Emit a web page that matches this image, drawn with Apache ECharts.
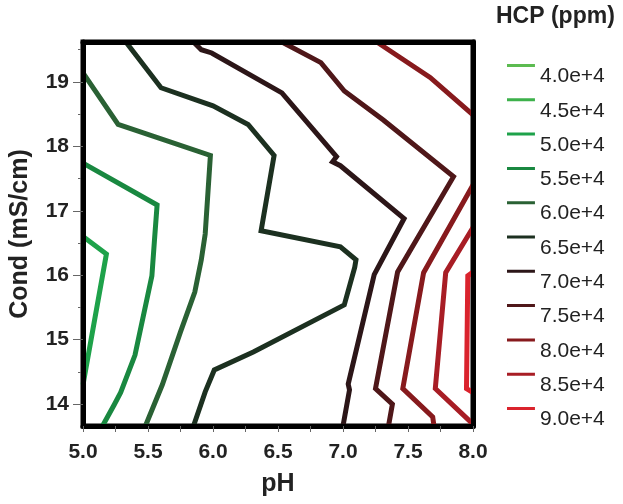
<!DOCTYPE html>
<html>
<head>
<meta charset="utf-8">
<script src="https://cdn.jsdelivr.net/npm/echarts@6/dist/echarts.min.js"></script>
<style>
html, body { margin: 0; padding: 0; background: #fff; }
#chart { width: 623px; height: 504px; }
</style>
</head>
<body>
<div id="chart"></div>
<script>
// HCP contour levels and their colours
var levels = ['4.0e+4', '4.5e+4', '5.0e+4', '5.5e+4', '6.0e+4', '6.5e+4', '7.0e+4', '7.5e+4', '8.0e+4', '8.5e+4', '9.0e+4'];
var levelColors = ['#5CBB50', '#3DB14B', '#1EA24A', '#198840', '#2A6134', '#1C3020', '#2C1618', '#4F1719', '#871A1D', '#A81D25', '#DA232D'];

// contour lines, each point is [pH, Cond]
var c50 = [[5.00, 16.60], [5.18, 16.33], [5.00, 14.30]];
var c55 = [[5.00, 17.74], [5.57, 17.09], [5.55, 16.55], [5.53, 15.99], [5.40, 14.76], [5.29, 14.18], [5.24, 13.99], [5.15, 13.66]];
var c60 = [[5.00, 19.14], [5.27, 18.34], [5.98, 17.86], [5.94, 16.64], [5.91, 16.24], [5.86, 15.74], [5.75, 15.12], [5.61, 14.30], [5.48, 13.66]];
var c65 = [[5.33, 19.62], [5.60, 18.91], [6.00, 18.63], [6.27, 18.34], [6.47, 17.86], [6.37, 16.69], [6.98, 16.44], [7.10, 16.24], [7.09, 16.12], [7.01, 15.54], [6.31, 14.81], [6.01, 14.53], [5.94, 14.19], [5.85, 13.66]];
var c70 = [[5.85, 19.62], [5.91, 19.50], [5.99, 19.45], [6.53, 18.83], [6.95, 17.84], [6.92, 17.76], [6.98, 17.70], [7.47, 16.88], [7.24, 16.01], [7.04, 14.31], [7.05, 14.22], [7.00, 13.66]];
var c75 = [[6.53, 19.62], [6.83, 19.30], [7.01, 18.86], [7.31, 18.41], [7.85, 17.53], [7.42, 16.05], [7.25, 14.24], [7.38, 14.00], [7.35, 13.66]];
var c80a = [[7.26, 19.62], [7.67, 19.07], [8.00, 18.49]];
var c80b = [[8.00, 17.40], [7.62, 16.04], [7.46, 14.24], [7.69, 13.80], [7.70, 13.66]];
var c85 = [[8.00, 16.74], [7.79, 16.04], [7.71, 14.24], [8.00, 13.69]];
var c90 = [[8.00, 16.05], [7.96, 15.99], [7.95, 14.24], [8.00, 14.18]];

var contours = [
  ['5.0e+4', c50], ['5.5e+4', c55], ['6.0e+4', c60], ['6.5e+4', c65], ['7.0e+4', c70],
  ['7.5e+4', c75], ['8.0e+4', c80a], ['8.0e+4', c80b], ['8.5e+4', c85], ['9.0e+4', c90]
];

// axis ticks
var yLabelTicks = [14, 15, 16, 17, 18, 19];
var yMinorTicks = [14.5, 15.5, 16.5, 17.5, 18.5, 19.5];
var yMin = 13.66, yMax = 19.62;

var font = 'Liberation Sans, Arial, sans-serif';
var chart = echarts.init(document.getElementById('chart'));

function colorOf(name) {
  return levelColors[levels.indexOf(name)];
}

var series = [];
// levels with no line in the plot, still in the legend
levels.forEach(function (name) {
  var has = contours.some(function (c) { return c[0] == name; });
  if (!has) {
    series.push({ name: name, type: 'line', data: [], itemStyle: { color: colorOf(name) }, lineStyle: { color: colorOf(name), width: 5 } });
  }
});
contours.forEach(function (c) {
  series.push({
    name: c[0],
    type: 'line',
    data: c[1],
    symbol: 'none',
    showSymbol: false,
    clip: true,
    z: 2,
    itemStyle: { color: colorOf(c[0]) },
    lineStyle: { color: colorOf(c[0]), width: 5, cap: 'butt', join: 'miter' }
  });
});

var option = {
  animation: false,
  backgroundColor: '#fff',
  textStyle: { fontFamily: font },
  title: {
    text: 'HCP (ppm)',
    left: 496,
    top: 5,
    padding: 0,
    textStyle: { fontSize: 23, fontWeight: 'bold', color: '#222', fontFamily: font }
  },
  legend: {
    orient: 'vertical',
    left: 507,
    top: 64,
    padding: 0,
    itemWidth: 28,
    itemHeight: 25,
    itemGap: 9.3,
    selectedMode: false,
    icon: 'path://M0,0H28V3H0Z M0,25H0.05V25.05H0Z',
    itemStyle: { borderWidth: 0 },
    textStyle: { fontSize: 21, color: '#222', fontFamily: font },
    data: levels
  },
  grid: {
    left: 81, right: 150, top: 42, bottom: 78,
    show: true, borderColor: '#000', borderWidth: 5, backgroundColor: 'transparent'
  },
  xAxis: [{
    type: 'value',
    min: 5, max: 8, interval: 0.5,
    z: 10,
    name: 'pH',
    nameLocation: 'middle',
    nameGap: 46,
    nameTextStyle: { fontSize: 25, fontWeight: 'bold', color: '#222', fontFamily: font },
    axisLine: { show: true, onZero: false, lineStyle: { color: '#000', width: 5 } },
    axisTick: { show: true, length: 6, lineStyle: { color: '#666', width: 1 } },
    minorTick: { show: true, splitNumber: 2, length: 6, lineStyle: { color: '#666', width: 1 } },
    axisLabel: { fontSize: 21, fontWeight: 'bold', color: '#222', margin: 16, fontFamily: font,
      formatter: function (v) { return v.toFixed(1); } },
    splitLine: { show: false }
  }, {
    type: 'value',
    position: 'top',
    min: 5, max: 8,
    z: 10,
    axisLine: { show: true, onZero: false, lineStyle: { color: '#000', width: 5 } },
    axisTick: { show: false },
    axisLabel: { show: false },
    splitLine: { show: false }
  }],
  yAxis: [{
    type: 'value',
    min: yMin, max: yMax,
    z: 10,
    name: 'Cond (mS/cm)',
    nameLocation: 'middle',
    nameRotate: 90,
    nameGap: 50,
    nameTextStyle: { fontSize: 25, fontWeight: 'bold', color: '#222', fontFamily: font },
    axisLine: { show: true, onZero: false, lineStyle: { color: '#000', width: 5 } },
    axisTick: { show: true, length: 10, customValues: yLabelTicks, lineStyle: { color: '#666', width: 1 } },
    axisLabel: { fontSize: 21, fontWeight: 'bold', color: '#222', margin: 14, fontFamily: font,
      customValues: yLabelTicks },
    splitLine: { show: false }
  }, {
    type: 'value',
    position: 'left',
    min: yMin, max: yMax,
    axisLine: { show: false },
    axisTick: { show: true, length: 5, customValues: yMinorTicks, lineStyle: { color: '#666', width: 1 } },
    axisLabel: { show: false },
    splitLine: { show: false }
  }, {
    type: 'value',
    position: 'right',
    min: yMin, max: yMax,
    z: 10,
    axisLine: { show: true, onZero: false, lineStyle: { color: '#000', width: 5 } },
    axisTick: { show: false },
    axisLabel: { show: false },
    splitLine: { show: false }
  }],
  series: series
};

chart.setOption(option);
</script>
</body>
</html>
